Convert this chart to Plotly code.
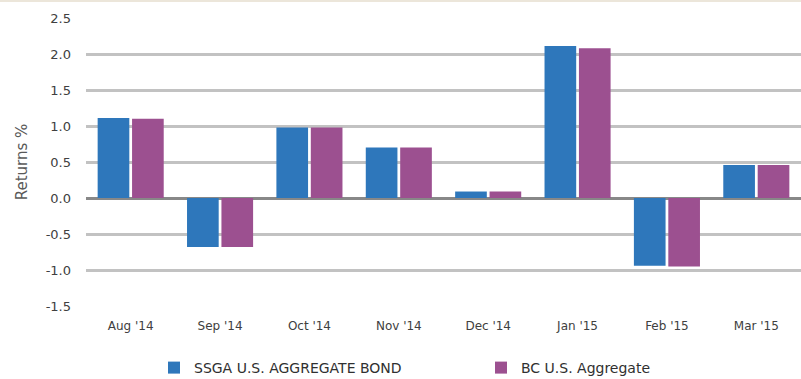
import plotly.graph_objects as go

# Monthly returns (%)
months = ["Aug '14", "Sep '14", "Oct '14", "Nov '14", "Dec '14", "Jan '15", "Feb '15", "Mar '15"]
ssga_returns = [1.11, -0.68, 0.98, 0.70, 0.09, 2.11, -0.94, 0.46]
bc_returns = [1.10, -0.68, 0.98, 0.70, 0.09, 2.08, -0.95, 0.46]

series_names = ["SSGA U.S. AGGREGATE BOND", "BC U.S. Aggregate"]
y_ticks = [-1.5, -1.0, -0.5, 0.0, 0.5, 1.0, 1.5, 2.0, 2.5]

BLUE = "#2e77bb"
PURPLE = "#9c5090"
FONT = "DejaVu Sans"

fig = go.Figure()
fig.add_trace(go.Bar(x=months, y=ssga_returns, name=series_names[0],
                     marker=dict(color=BLUE, line=dict(width=0))))
fig.add_trace(go.Bar(x=months, y=bc_returns, name=series_names[1],
                     marker=dict(color=PURPLE, line=dict(width=0))))

fig.update_layout(
    width=801, height=379,
    margin=dict(l=86, r=0, t=18, b=73, autoexpand=False),
    paper_bgcolor="white", plot_bgcolor="white",
    barmode="group", bargap=0.23, bargroupgap=0.08,
    font=dict(family=FONT, size=12, color="#404040"),
    showlegend=True,
    legend=dict(orientation="h", xref="container", yref="container",
                x=154 / 801, xanchor="left", y=11 / 379, yanchor="middle",
                font=dict(family=FONT, size=14, color="#303030"),
                entrywidth=282, itemwidth=30, traceorder="normal"),
    xaxis=dict(showgrid=False, showline=False, ticks="", ticklabelstandoff=11,
               tickfont=dict(family=FONT, size=12, color="#404040")),
    yaxis=dict(range=[-1.5, 2.5], tickvals=y_ticks,
               ticktext=[f"{v:.1f}" for v in y_ticks],
               showgrid=True, gridcolor="#c2c2c2", gridwidth=2.5,
               zeroline=True, zerolinecolor="#888888", zerolinewidth=3,
               showline=False, ticks="", ticklabelstandoff=14,
               tickfont=dict(family=FONT, size=13, color="#404040"),
               title=dict(text="Returns %", standoff=14,
                          font=dict(family=FONT, size=15, color="#595959"))),
)

# thin warm border along the top edge of the page
fig.add_shape(type="line", xref="paper", yref="paper", x0=-0.2, x1=1.0,
              ysizemode="pixel", yanchor=1.0, y0=17, y1=17,
              line=dict(color="#ece6da", width=2))

fig.write_html("out.html")
